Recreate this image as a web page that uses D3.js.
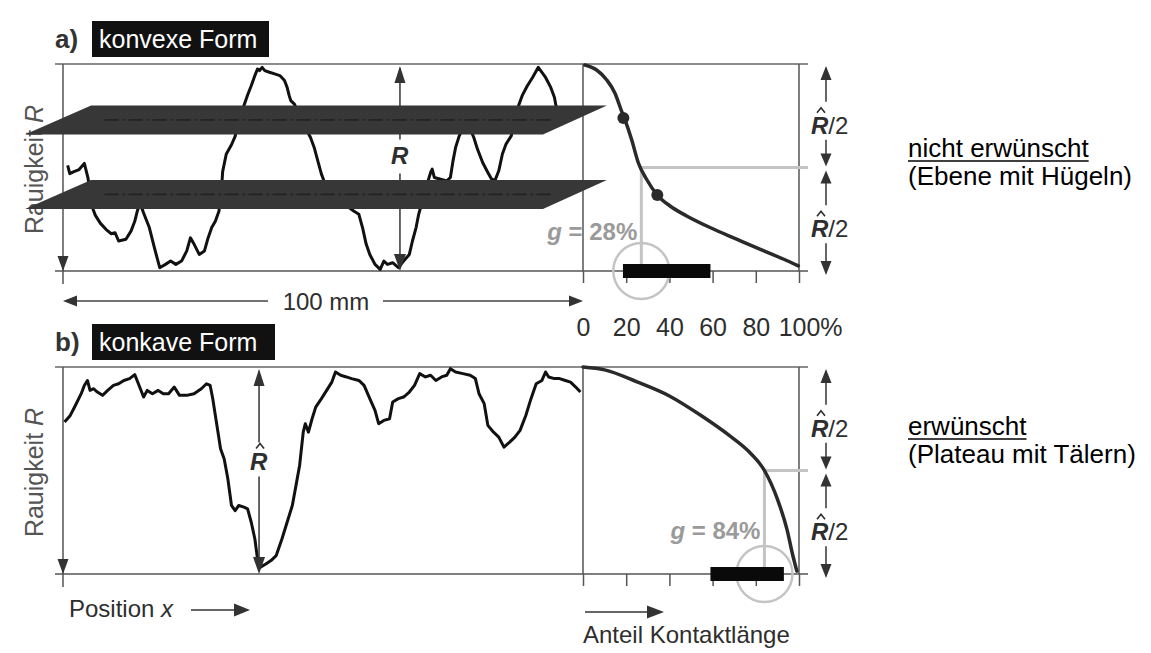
<!DOCTYPE html>
<html>
<head>
<meta charset="utf-8">
<script src="https://cdn.jsdelivr.net/npm/d3@7"></script>
<style>
  body { margin: 0; background: #fff; }
  text { font-family: 'Liberation Sans', Arial, sans-serif; }
</style>
</head>
<body>
<svg id="chart" width="1151" height="653"></svg>
<script>
// Profil a) konvexe Form: [Position mm, Höhe in % von R]
const profileA = [[0.9,51],[1.3,47],[2.1,48],[3.1,49],[4.1,52],[4.8,45],[5.6,31],[6.2,27],[7.2,23],[8.3,20],[9.3,18],[10.0,18.5],
  [10.7,14.5],[12.1,15.3],[13.1,19.4],[13.8,24],[14.3,29],[14.8,33],[15.5,28],[16.6,21],[17.6,11],[18.6,1.6],[19.7,3.2],
  [20.7,4.8],[21.7,3.2],[22.8,4.8],[23.8,9.7],[24.5,16],[25.2,13],[26.2,8],[27.2,9.7],[27.9,16],[28.6,21],[29.3,24],[30.0,29],
  [30.5,40],[30.7,48],[31.4,56.5],[32.4,61],[33.1,65],[33.8,73],[34.8,80],[35.5,85],[36.2,89.5],[36.9,94.4],[37.4,97.6],
  [37.8,96.8],[38.3,98.4],[38.8,96.8],[39.7,96],[40.7,95.2],[41.7,94.4],[42.6,92],[43.1,88.7],[43.5,84.7],[43.8,82.3],
  [44.5,80.6],[45.9,72.6],[47.6,64.5],[48.3,59.7],[49.0,53.2],[49.7,46.8],[50.2,43.5],[52.4,35.5],[55.9,29],[56.9,27.4],
  [57.6,21],[58.3,13],[59.0,8],[60.0,3.2],[61.0,0.8],[61.7,4.8],[62.4,3.2],[63.4,4],[64.5,1.6],[65.5,4.8],[66.6,8],
  [67.2,14.5],[67.9,21],[68.4,27.4],[69.3,35.5],[70.2,43.5],[70.7,47.6],[71.0,49.2],[71.4,45.2],[73.8,43.5],[74.5,45.2],
  [75.0,53.2],[75.5,59.7],[76.2,65.3],[77.6,72.6],[79.0,64.5],[79.7,58.9],[80.7,52.4],[81.7,47.6],[82.4,44.4],[83.1,43.9],
  [83.8,48.4],[84.5,56.5],[85.2,61.3],[86.2,65.3],[86.9,72.6],[87.6,79.8],[88.3,84.7],[89.3,89.5],[90.3,93.5],[91.4,98.4],
  [92.1,96],[92.8,93.5],[93.8,88.7],[94.5,83.9],[94.8,79.8],[96.0,74]]

// Profil b) konkave Form
const profileB = [[0.3,73.4],[1.4,76.6],[2.4,81.5],[3.5,87.1],[4.1,91.1],[4.7,93.5],[5.2,88.7],[5.9,89.5],[6.6,87.9],[7.6,86.3],
  [8.6,88.7],[9.7,91.1],[10.7,91.9],[11.7,93.5],[12.8,94.4],[13.8,96.3],[14.5,91.9],[15.5,85.5],[16.2,88.7],[17.2,87.1],
  [18.3,88.7],[19.3,87.1],[20.3,87.1],[21.4,90.3],[22.4,86.3],[23.8,86.3],[25.2,87.1],[26.6,89.5],[27.6,91.9],[28.3,91.1],
  [28.8,84.7],[29.3,76.6],[29.7,70.2],[30.3,60.5],[31.0,55.6],[31.7,46],[32.4,33.1],[33.1,30.6],[33.8,33.1],[34.8,32.3],
  [35.5,31.5],[36.2,25],[36.9,16.9],[37.4,7.3],[37.9,3.2],[39.0,4.8],[40.0,6.5],[41.0,8.9],[42.1,16.9],[43.1,25],[44.1,33.1],
  [44.8,42.7],[45.5,52.4],[46.2,68.5],[46.6,72.6],[47.2,68.5],[47.9,75],[48.6,80.6],[49.7,84.7],[50.7,88.7],[51.7,92.7],
  [52.4,97.6],[53.4,96],[54.5,95.2],[55.5,94.4],[56.9,93.5],[57.9,91.1],[59.0,84.7],[60.0,79],[60.7,72.6],[61.7,74.2],
  [62.8,75],[63.4,83.1],[64.5,84.7],[65.5,85.5],[66.6,87.9],[67.6,91.1],[68.6,96.8],[69.7,95.2],[70.7,96],[71.7,93.5],
  [72.8,95.2],[73.8,96],[74.5,99.2],[75.5,97.6],[76.9,96.8],[78.3,96],[79.3,94.4],[80.0,87.1],[81.0,82.3],[81.7,71.8],
  [82.8,68.5],[83.8,66.1],[84.8,61.3],[85.9,63.7],[86.9,66.1],[87.9,69.4],[89.0,76.6],[90.0,84.7],[91.0,91.9],[92.1,93.5],
  [92.8,97.6],[93.4,95.2],[94.5,94.4],[95.5,94.4],[96.6,93.5],[97.6,92.7],[98.6,90.3],[99.5,87.9]]

// Traganteilkurven: [Anteil Kontaktlänge %, Höhe %]
const bearingA = [[0.9,99.5],[6.3,97.1],[11,92.3],[14.8,85.9],[17.9,77.1],[19.4,73.1],[22.5,63.5],[25.6,52.3],[29.5,44.2],
  [34.4,36.7],[40.3,31.4],[48,26.6],[58.8,21],[71.1,15.4],[83.5,9.8],[92.7,5.8],[99.7,2.5]]
const bearingB = [[0,100],[10,98.6],[25,92.8],[40,86],[55,76.3],[68,66.7],[77,58.9],[84,50],[90,36.2],[94.4,21.7],[97.2,8.7],[99,1.4]]
const dotsA = [[18.7,73.9],[34.4,36.7]]

const percentTicks = [0, 20, 40, 60, 80, 100]
const gPos = [27, 84]            // Lage der g-Linie
const gText = ['28%', '84%']
const contactBars = [[18.5, 59], [59, 93]]
// Ebenen in a): Höhe unten/oben (%), Lage unten/oben (mm)
const planeLevels = [[66, 80], [30, 44]]
const planeSpanLow = [-7.3, 92.3]
const planeSpanHigh = [5.4, 104.6]
const rArrowPos = [64.8, 37.7]             // R-Pfeil (mm)

const svg = d3.select('#chart')
const lineColor = '#555'
const textColor = '#2e2e2e'
const gray = '#c4c4c4'

const xPos = d3.scaleLinear().domain([0, 100]).range([63, 583])
const xPct = d3.scaleLinear().domain([0, 100]).range([583, 799])
const panels = [
  { key: 'a)', title: 'konvexe Form', top: 64, bottom: 271, boxW: 177, profile: profileA, bearing: bearingA },
  { key: 'b)', title: 'konkave Form', top: 367, bottom: 574, boxW: 183, profile: profileB, bearing: bearingB }
]
panels.forEach(p => { p.y = d3.scaleLinear().domain([0, 100]).range([p.bottom, p.top]) })

function seg(g, x1, y1, x2, y2, stroke = lineColor, w = 1.5) {
  return g.append('line').attr('x1', x1).attr('y1', y1).attr('x2', x2).attr('y2', y2)
    .attr('stroke', stroke).attr('stroke-width', w)
}
function tri(g, x, y, dir, len = 15, hw = 5.5) {
  const pts = {
    down: [[x, y], [x - hw, y - len], [x + hw, y - len]],
    up: [[x, y], [x - hw, y + len], [x + hw, y + len]],
    left: [[x, y], [x + len, y - hw], [x + len, y + hw]],
    right: [[x, y], [x - len, y - hw], [x - len, y + hw]]
  }[dir]
  g.append('path').attr('d', d3.line()(pts) + 'Z').attr('fill', '#333')
}
// R oder R^ mit optionalem Zusatz (z.B. "/2")
function rLabel(g, x, y, hat, suffix) {
  const t = g.append('text').attr('x', x).attr('y', y).attr('font-size', 24).attr('fill', textColor)
  t.append('tspan').attr('font-weight', 'bold').attr('font-style', 'italic').text('R')
  if (suffix) t.append('tspan').text(suffix)
  if (hat) {
    const cx = x + 10
    g.append('path').attr('d', `M${cx - 4},${y - 21}L${cx},${y - 26}L${cx + 4},${y - 21}`)
      .attr('fill', 'none').attr('stroke', textColor).attr('stroke-width', 1.6)
  }
}

panels.forEach((p, i) => {
  const g = svg.append('g')
  const y = p.y
  const mid = (p.top + p.bottom) / 2

  // Titel
  g.append('text').attr('x', 55).attr('y', p.top - 16).attr('font-size', 26).attr('font-weight', 'bold')
    .attr('fill', '#333').text(p.key)
  g.append('rect').attr('x', 92).attr('y', p.top - 43).attr('width', p.boxW).attr('height', 36).attr('fill', '#111')
  g.append('text').attr('x', 99).attr('y', p.top - 16).attr('font-size', 25).attr('fill', '#fff').text(p.title)

  // Rahmen
  seg(g, 55, p.top, 808, p.top, '#666', 1.4)
  seg(g, 55, p.bottom, 808, p.bottom, '#555', 1.6)
  seg(g, 63, p.top, 63, p.bottom + 13)
  tri(g, 63, p.bottom, 'down')
  seg(g, xPct(0), p.top, xPct(0), p.bottom)
  seg(g, xPct(100), p.top, xPct(100), p.bottom)

  // Achse Traganteil
  const axis = g.append('g').attr('transform', `translate(0,${p.bottom})`)
    .call(d3.axisBottom(xPct).tickValues(percentTicks).tickSize(12).tickPadding(35)
      .tickFormat(i === 0 ? d => d : () => ''))
  axis.select('.domain').remove()
  axis.selectAll('.tick line').attr('stroke', lineColor).attr('stroke-width', 1.5)
  axis.selectAll('.tick text').attr('font-size', 25).attr('fill', textColor)
    .attr('font-family', "'Liberation Sans', Arial, sans-serif")
  if (i === 0) {
    const last = axis.selectAll('.tick text').filter(d => d === 100)
    const w = last.node().getComputedTextLength()
    last.text('100%').attr('text-anchor', 'start').attr('x', -w / 2)
  }

  // Y-Beschriftung
  const yl = g.append('text').attr('transform', `translate(43,${mid + 2}) rotate(-90)`)
    .attr('text-anchor', 'middle').attr('font-size', 25).attr('fill', '#555')
  yl.append('tspan').text('Rauigkeit ')
  yl.append('tspan').attr('font-style', 'italic').text('R')

  // Profil
  g.append('path').datum(p.profile)
    .attr('d', d3.line().x(d => xPos(d[0])).y(d => y(d[1])))
    .attr('fill', 'none').attr('stroke', '#111').attr('stroke-width', 3).attr('stroke-linejoin', 'round')

  // R-Pfeil
  const rx = xPos(rArrowPos[i])
  seg(g, rx, p.top + 4, rx, mid - 28, '#333', 1.5)
  seg(g, rx, mid + 6, rx, p.bottom - 4, '#333', 1.5)
  tri(g, rx, p.top + 2, 'up', 17, 5.5)
  tri(g, rx, p.bottom, 'down', 17, 6)
  rLabel(g, rx - 9, mid - 4 + (i === 0 ? 0 : 3), i === 1, '')

  // Ebenen (nur a)
  if (i === 0) {
    planeLevels.forEach(([lo, hi]) => {
      const pts = [[xPos(planeSpanHigh[0]), y(hi)], [xPos(planeSpanHigh[1]), y(hi)],
        [xPos(planeSpanLow[1]), y(lo)], [xPos(planeSpanLow[0]), y(lo)]]
      g.append('path').attr('d', d3.line()(pts) + 'Z').attr('fill', '#373737')
      const ym = y((lo + hi) / 2)
      seg(g, xPos(8), ym, xPos(94), ym, '#222', 1.6).attr('stroke-dasharray', '14,4,2,4')
    })
  }

  // g-Linien und Kreis
  const gx = xPct(gPos[i])
  seg(g, gx, mid, 808, mid, gray, 3)
  seg(g, gx, mid, gx, p.bottom, gray, 3)
  g.append('circle').attr('cx', gx).attr('cy', p.bottom).attr('r', 28)
    .attr('fill', 'none').attr('stroke', gray).attr('stroke-width', 2.5)
  const [b0, b1] = contactBars[i]
  g.append('rect').attr('x', xPct(b0)).attr('y', p.bottom - 7).attr('width', xPct(b1) - xPct(b0)).attr('height', 14)
    .attr('fill', '#0a0a0a')
  const gt = g.append('text').attr('x', gx - 4).attr('y', i === 0 ? 240 : mid + 68).attr('text-anchor', 'end')
    .attr('font-size', 24).attr('font-weight', 'bold').attr('fill', '#9a9a9a')
  gt.append('tspan').attr('font-style', 'italic').text('g')
  gt.append('tspan').text(' = ' + gText[i])

  // Traganteilkurve
  g.append('path').datum(p.bearing)
    .attr('d', d3.line().curve(d3.curveMonotoneX).x(d => xPct(d[0])).y(d => y(d[1])))
    .attr('fill', 'none').attr('stroke', '#2a2a2a').attr('stroke-width', 3.5).attr('stroke-linecap', 'round')
  if (i === 0) {
    g.selectAll('.dot').data(dotsA).enter().append('circle')
      .attr('cx', d => xPct(d[0])).attr('cy', d => y(d[1])).attr('r', 6).attr('fill', '#2a2a2a')
  }

  // R^/2 Pfeile rechts
  const ax = 826
  const h1 = (p.top + mid) / 2, h2 = (mid + p.bottom) / 2
  seg(g, ax, p.top + 4, ax, h1 - 14, '#333', 1.5)
  seg(g, ax, h1 + 24, ax, mid - 4, '#333', 1.5)
  seg(g, ax, mid + 6, ax, h2 - 14, '#333', 1.5)
  seg(g, ax, h2 + 24, ax, p.bottom, '#333', 1.5)
  tri(g, ax, p.top + 2, 'up', 14, 5.5)
  tri(g, ax, mid - 1, 'down', 13, 5.5)
  tri(g, ax, mid + 3, 'up', 13, 5.5)
  tri(g, ax, p.bottom + 4, 'down', 14, 5.5)
  rLabel(g, 811, h1 + 18, true, '/2')
  rLabel(g, 811, h2 + 18, true, '/2')
})

// 100 mm Maßpfeil
const dim = svg.append('g')
seg(dim, xPos(0) + 4, 301, 268, 301, '#444', 1.5)
seg(dim, 383, 301, xPos(100) - 4, 301, '#444', 1.5)
tri(dim, xPos(0), 301, 'left', 14, 5.5)
tri(dim, xPos(100), 301, 'right', 14, 5.5)
dim.append('text').attr('x', 326).attr('y', 310).attr('text-anchor', 'middle').attr('font-size', 24)
  .attr('fill', textColor).text('100 mm')

// Achsenbeschriftungen unten
const pt = svg.append('text').attr('x', 69).attr('y', 617).attr('font-size', 24).attr('fill', textColor)
pt.append('tspan').text('Position ')
pt.append('tspan').attr('font-style', 'italic').text('x')
seg(svg, 191, 610, 236, 610, '#333', 1.5)
tri(svg, 250, 610, 'right', 16, 6.5)
seg(svg, 585, 612, 648, 612, '#333', 1.5)
tri(svg, 664, 612, 'right', 17, 6.5)
svg.append('text').attr('x', 583).attr('y', 643).attr('font-size', 24).attr('fill', textColor).text('Anteil Kontaktlänge')

// Bewertungen rechts
const notes = [
  { head: 'nicht erwünscht', sub: '(Ebene mit Hügeln)', y: 157 },
  { head: 'erwünscht', sub: '(Plateau mit Tälern)', y: 435 }
]
notes.forEach(n => {
  const t = svg.append('text').attr('x', 908).attr('y', n.y).attr('font-size', 26).attr('fill', '#000').text(n.head)
  const w = t.node().getComputedTextLength()
  seg(svg, 908, n.y + 4, 908 + w, n.y + 4, '#000', 1.5)
  svg.append('text').attr('x', 908).attr('y', n.y + 28).attr('font-size', 26).attr('fill', '#000').text(n.sub)
})
</script>
</body>
</html>
